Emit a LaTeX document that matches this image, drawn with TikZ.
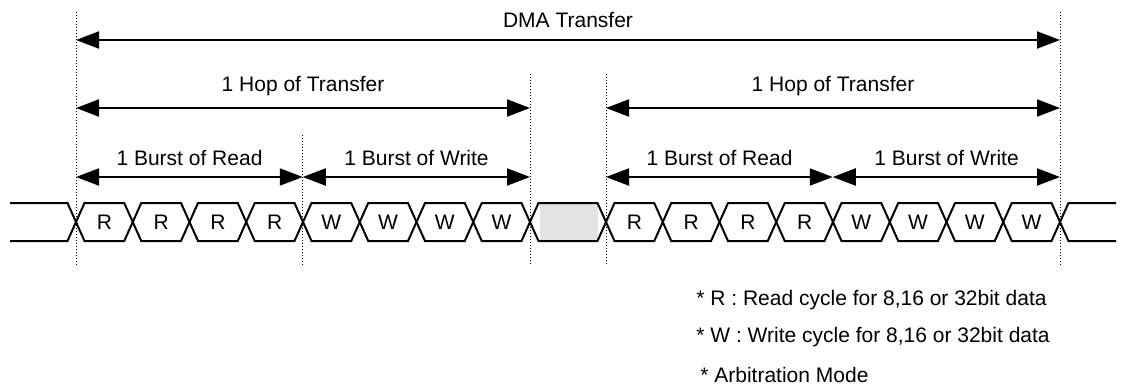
\documentclass[tikz,border=0pt]{standalone}
\usepackage{fontspec}
\setmainfont{Liberation Sans}
\usetikzlibrary{arrows.meta, positioning, calc}
\definecolor{idlegray}{RGB}{227, 227, 227}

\begin{document}
\begin{tikzpicture}[x=0.5pt, y=-0.5pt,
  font=\fontsize{10.5}{12}\selectfont,
  sig/.style={line width=1pt, line join=miter},
  guide/.style={densely dotted, line width=0.5pt},
  span/.style={line width=1pt, {Triangle[length=11.5pt, width=8.5pt]}-{Triangle[length=11.5pt, width=8.5pt]}},
  lbl/.style={anchor=base, inner sep=0pt},
  note/.style={anchor=base west, inner sep=0pt}]
  \useasboundingbox (0,0) rectangle (1125,387);

  % columns and rows
  \coordinate (colA) at (76,265);
  \coordinate (colB) at (302.75,265);
  \coordinate (colC) at (530,265);
  \coordinate (colD) at (606,265);
  \coordinate (colE) at (832.75,265);
  \coordinate (colF) at (1060,265);
  \coordinate (rowDma) at (0,40);
  \coordinate (rowHop) at (0,108);
  \coordinate (rowBurst) at (0,177);

  \draw[guide] (76,12) -- (colA);
  \draw[guide] (302.75,135) -- (colB);
  \draw[guide] (530,74) -- (colC);
  \draw[guide] (606,74) -- (colD);
  \draw[guide] (1060,12) -- (colF);

  % spans
  \draw[span] (colA |- rowDma) -- (colF |- rowDma);
  \node[lbl] (dma) at (568,27) {DMA Transfer};

  \draw[span] (colA |- rowHop) -- (colC |- rowHop);
  \draw[span] (colD |- rowHop) -- (colF |- rowHop);
  \node[lbl] (hopL) at (303,91) {1 Hop of Transfer};
  \node[lbl] (hopR) at (833,91) {1 Hop of Transfer};

  \draw[span] (colA |- rowBurst) -- (colB |- rowBurst);
  \draw[span] (colB |- rowBurst) -- (colC |- rowBurst);
  \draw[span] (colD |- rowBurst) -- (colE |- rowBurst);
  \draw[span] (colE |- rowBurst) -- (colF |- rowBurst);
  \node[lbl] (rdL) at (189.5,165) {1 Burst of Read};
  \node[lbl] (wrL) at (416.5,165) {1 Burst of Write};
  \node[lbl] (rdR) at (719.5,165) {1 Burst of Read};
  \node[lbl] (wrR) at (946.5,165) {1 Burst of Write};

  % bus waveform
  \draw[sig] (10,203) -- (67.5,203) -- (76,222) -- (67.5,241) -- (10,241);
  \foreach \base/\tag in {76/a, 606/b} {
    \foreach \i/\txt in {0/R, 1/R, 2/R, 3/R, 4/W, 5/W, 6/W, 7/W} {
      \pgfmathsetmacro\xa{\base+\i*56.75}
      \pgfmathsetmacro\xb{\xa+56.75}
      \draw[sig] (\xa,222) -- (\xa+8.5,203) -- (\xb-8.5,203) -- (\xb,222)
        -- (\xb-8.5,241) -- (\xa+8.5,241) -- cycle;
      \node[lbl] (cell\tag\i) at ({(\xa+\xb)/2},229) {\txt};
    }
  }
  \fill[idlegray] (539.5,203) rectangle (597.5,241);
  \draw[sig] (530,222) -- (538.5,203) -- (597.5,203) -- (606,222)
    -- (597.5,241) -- (538.5,241) -- cycle;
  \draw[sig] (1116,203) -- (1068.5,203) -- (1060,222) -- (1068.5,241) -- (1116,241);

  % legend
  \node[note] (noteR) at (696,305) {* R : Read cycle for 8,16 or 32bit data};
  \node[note] (noteW) at (696,342) {* W : Write cycle for 8,16 or 32bit data};
  \node[note] (noteA) at (700,382) {* Arbitration Mode};
\end{tikzpicture}
\end{document}
